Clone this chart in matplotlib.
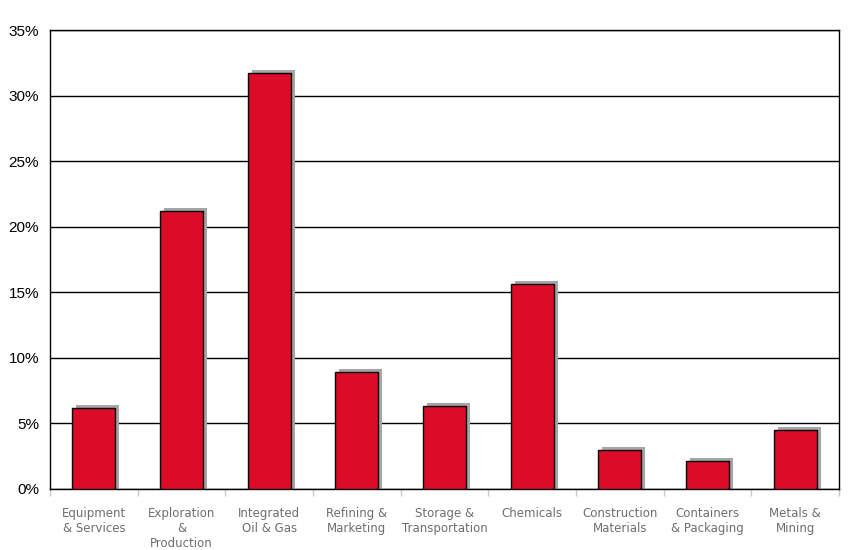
import numpy as np
import matplotlib
matplotlib.use("Agg")
import matplotlib.pyplot as plt
from matplotlib.ticker import FuncFormatter, FixedLocator

# sector labels and weights (%)
categories = ["Equipment\n& Services", "Exploration\n&\nProduction", "Integrated\nOil & Gas",
              "Refining &\nMarketing", "Storage &\nTransportation", "Chemicals",
              "Construction\nMaterials", "Containers\n& Packaging", "Metals &\nMining"]
values = [6.2, 21.2, 31.7, 8.9, 6.3, 15.6, 3.0, 2.1, 4.5]

fig = plt.figure(figsize=(8.58, 5.5), dpi=100)
ax = fig.add_axes([50 / 858, 1 - 489 / 550, 789 / 858, 459 / 550])

x = np.arange(len(categories))
width = 0.49
ymax = 35

# shadow offset: 4px right, 3px up
ax_w_px = 789
ax_h_px = 459
dx = 4 * len(categories) / ax_w_px
dy = 3 * ymax / ax_h_px

ax.bar(x + dx, np.array(values) + dy, width=width, color="#a6a6a6", zorder=2)
ax.bar(x, values, width=width, color="#dc0c28", edgecolor="black", linewidth=1, zorder=3)

ax.set_xlim(-0.5, len(categories) - 0.5)
ax.set_ylim(0, ymax)
ax.set_yticks(range(0, 36, 5))
ax.yaxis.set_major_formatter(FuncFormatter(lambda v, p: f"{int(v)}%"))
ax.yaxis.grid(True, color="black", linewidth=1, zorder=1)
ax.set_axisbelow(True)
ax.tick_params(axis="y", length=0, pad=8, labelsize=11, labelcolor="black")
for lab in ax.get_yticklabels():
    lab.set_family("Liberation Sans")

ax.set_xticks(x)
ax.set_xticklabels(categories, fontsize=8.5, color="#6e6e6e", linespacing=1.2)
ax.xaxis.set_minor_locator(FixedLocator(np.arange(-0.5, len(categories), 1)))
ax.tick_params(axis="x", which="major", length=0, pad=13)
ax.tick_params(axis="x", which="minor", length=5, color="#c8c8c8", width=1)

for s in ax.spines.values():
    s.set_color("black")
    s.set_linewidth(1)

fig.savefig("out.png", dpi=100)
